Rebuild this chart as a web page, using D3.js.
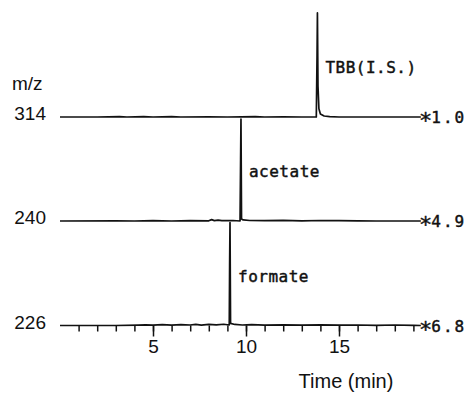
<!DOCTYPE html>
<html lang="en">
<head>
<meta charset="UTF-8">
<title>SIM chromatograms</title>
<style>
    body { margin: 0; padding: 0; background: #fff; }
    svg { display: block; }
    .lbl { font-family: "Liberation Sans", Arial, sans-serif; font-size: 19px; fill: #111; }
    .mono { font-family: "DejaVu Sans Mono", monospace; font-size: 16px; fill: #111; stroke: #111; stroke-width: 0.45px; }
</style>
</head>
<body>
<svg id="chart"></svg>
<script src="https://d3js.org/d3.v7.min.js"></script>
<script>
// data
const mzLabels = ["314", "240", "226"];
const multipliers = ["1.0", "4.9", "6.8"];
const compounds = ["TBB(I.S.)", "acetate", "formate"];
const peakTimes = [13.84, 9.73, 9.14];
const majorTicks = [5, 10, 15];
const minorTicks = [1, 2, 3, 4, 5, 6, 7, 8, 9, 10, 11, 12, 13, 14, 15, 16, 17, 18, 19];

// [time (min), relative intensity]
const trace314 = [[0, 0], [2, 0], [3.2, 0.3], [3.6, 0], [4.5, 0.4], [5, 0], [6, 0.3], [6.5, 0], [8, 0.2], [9, 0],
    [10.5, 0.3], [11, 0], [12, 0.2], [13, 0], [13.78, 0], [13.82, 60], [13.84, 101], [13.87, 30], [13.92, 8],
    [14.0, 3], [14.2, 1], [14.5, 0.3], [15, 0], [19.4, 0]];
const trace240 = [[0, 0], [3, 0.2], [4, 0], [5, 0.3], [6, 0], [7, 0.3], [8, 0.2], [8.15, 1.3], [8.3, 0.4], [8.5, 0.8],
    [8.7, 0.3], [9.3, 0.5], [9.68, 0], [9.71, 60], [9.73, 99], [9.76, 2], [9.85, 1], [10.2, 0.5], [11, 0.3],
    [12, 0.6], [13, 0.2], [14, 0.5], [15, 0.3], [16, 0.2], [17, 0], [19.4, 0]];
const trace226 = [[0, 0], [3, 0], [4.2, 0.4], [4.6, 0.6], [5, 0.3], [5.5, 0.8], [6, 0.4], [6.5, 0.9], [7, 0.5],
    [7.3, 1.1], [7.6, 0.4], [8, 1.0], [8.4, 0.6], [8.8, 1.2], [9.1, 0.5], [9.12, 60], [9.14, 100], [9.17, 2],
    [9.4, 1.0], [9.8, 0.5], [10.3, 0.8], [11, 0.3], [12, 0.6], [13, 0.4], [14, 0.7], [15, 0.3], [16, 0.5],
    [17, 0.2], [18, 0.5], [19, 0.2], [19.4, 0]];
const traces = [trace314, trace240, trace226];

const width = 470, height = 394;
const baselines = [117, 221, 325.5];
const peakPx = 103;

const svg = d3.select("#chart").attr("width", width).attr("height", height);

const x = d3.scaleLinear().domain([0, 20]).range([60, 432]);

traces.forEach(function (tr, i) {
    const y = d3.scaleLinear().domain([0, 100]).range([baselines[i], baselines[i] - peakPx]);
    const line = d3.line().x(d => x(d[0])).y(d => y(d[1]));

    svg.append("path")
        .datum(tr)
        .attr("d", line)
        .attr("fill", "none")
        .attr("stroke", "#111")
        .attr("stroke-width", 1.7)
        .attr("stroke-linejoin", "round");

    // m/z label on the left
    svg.append("text")
        .attr("class", "lbl")
        .attr("x", 46)
        .attr("y", baselines[i] + 3)
        .attr("text-anchor", "end")
        .text(mzLabels[i]);

    // multiplier on the right
    const m = svg.append("text")
        .attr("class", "mono")
        .attr("x", 419)
        .attr("y", baselines[i] + 6);
    m.append("tspan").attr("dy", 5).style("font-size", "22px").text("*");
    m.append("tspan").attr("dy", -5).attr("dx", -1).style("letter-spacing", "2px").text(multipliers[i]);

    // compound name next to the peak
    svg.append("text")
        .attr("class", "mono")
        .attr("x", x(peakTimes[i]) + 8)
        .attr("y", baselines[i] - 44)
        .style("letter-spacing", "0.5px")
        .text(compounds[i]);
});

svg.append("text")
    .attr("class", "lbl")
    .attr("x", 12)
    .attr("y", 90)
    .text("m/z");

// time axis sits on the bottom trace
const axisY = baselines[2];
const minorAxis = svg.append("g")
    .attr("transform", `translate(0,${axisY})`)
    .call(d3.axisBottom(x).tickValues(minorTicks).tickSize(6).tickFormat(""));
const majorAxis = svg.append("g")
    .attr("transform", `translate(0,${axisY})`)
    .call(d3.axisBottom(x).tickValues(majorTicks).tickSize(11).tickPadding(3));

[minorAxis, majorAxis].forEach(function (g) {
    g.select(".domain").remove();
    g.selectAll(".tick line").attr("stroke", "#111").attr("stroke-width", 1.5);
});
majorAxis.selectAll(".tick text")
    .attr("class", "lbl")
    .attr("fill", "#111")
    .style("font-size", "19px");

svg.append("text")
    .attr("class", "lbl")
    .attr("x", 346)
    .attr("y", 388)
    .attr("text-anchor", "middle")
    .style("font-size", "20px")
    .text("Time (min)");
</script>
</body>
</html>
